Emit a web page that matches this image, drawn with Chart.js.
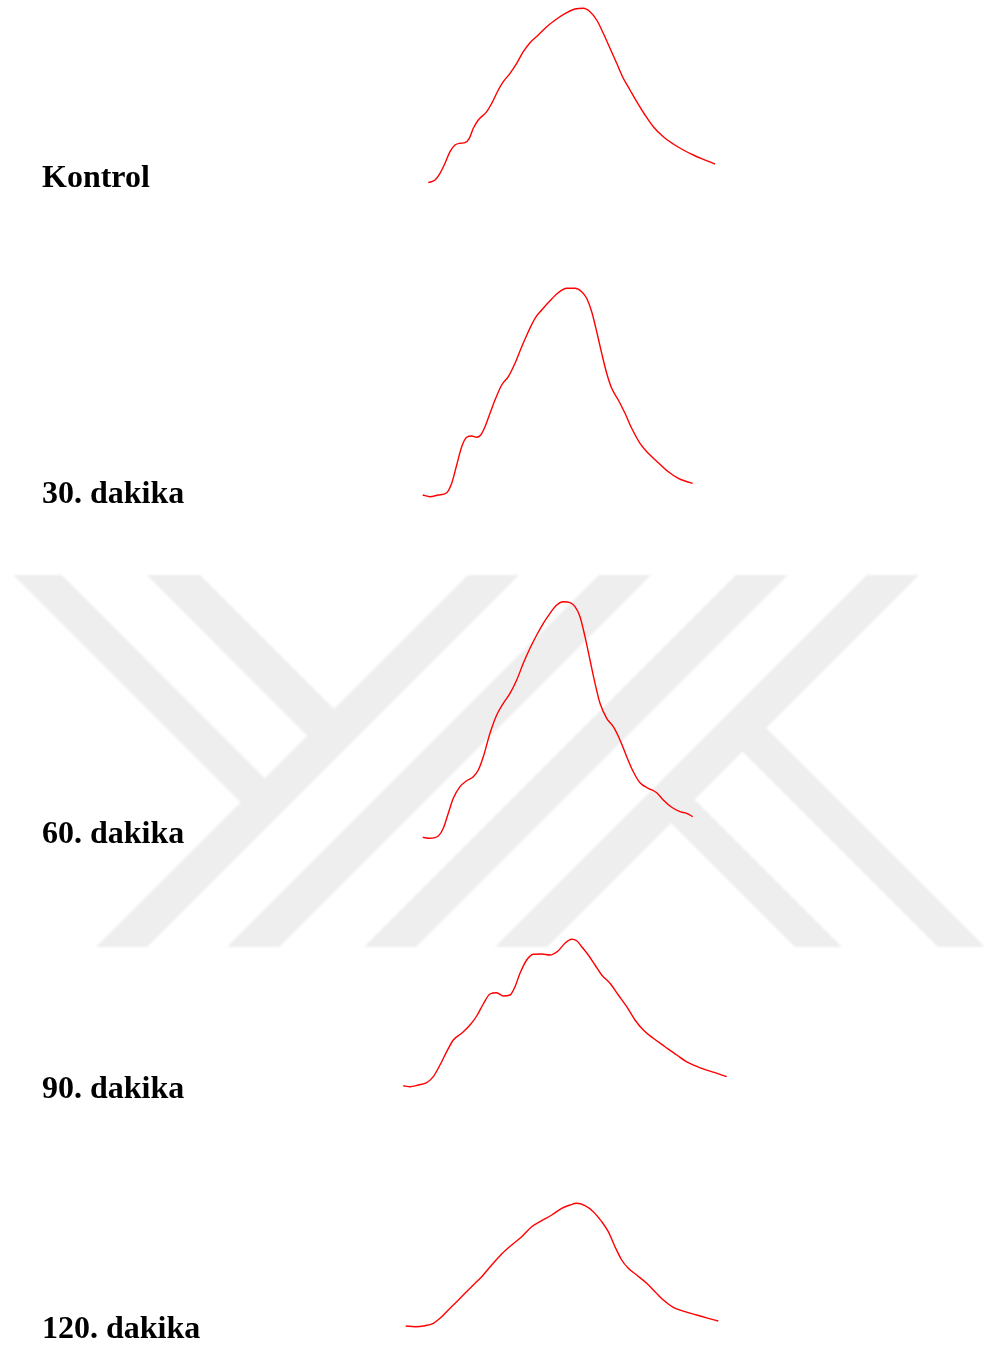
<!DOCTYPE html>
<html lang="tr">
<head>
<meta charset="utf-8">
<title>Spektrum eğrileri</title>
<script src="https://cdn.jsdelivr.net/npm/chart.js@4.4.1/dist/chart.umd.min.js"></script>
<style>
  html, body { margin: 0; padding: 0; background: #ffffff; }
  body { position: relative; width: 985px; height: 1349px; overflow: hidden; }
  #emblem { position: absolute; left: 0; top: 0; z-index: 0; filter: blur(0.8px); }
  .panel { position: absolute; z-index: 1; }
  .label {
    position: absolute; z-index: 2; left: 42px;
    font-family: "Liberation Serif", "Times New Roman", serif;
    font-weight: bold; font-size: 32px; line-height: 32px;
    color: #000; white-space: nowrap;
  }
</style>
</head>
<body>
<canvas id="emblem" width="985" height="1349"></canvas>

<script>
// Panel titles
const panelLabels = ["Kontrol", "30. dakika", "60. dakika", "90. dakika", "120. dakika"];

// Spectra: [channel, intensity] pairs for each sampling time
const kontrol = [
  [28.3, 7.3], [35, 10], [40, 16.7], [45, 26.7], [50, 38.3], [55, 45], [60, 46.7], [65, 47.3],
  [69.3, 51.7], [73.3, 61.7], [78.3, 70], [86.7, 78.3], [91.7, 86.7], [98.3, 100], [103.3, 108.3],
  [110, 116.7], [116.7, 126.7], [123.3, 138.3], [130, 147.3], [138.3, 155], [146.7, 163.3],
  [156.7, 171], [166.7, 177.3], [175, 181], [183.3, 181.7], [190, 178.3], [196.7, 170],
  [203.3, 156.7], [210, 141.7], [216.7, 126.7], [223.3, 111.7], [230, 100], [236.7, 88.3],
  [245, 75], [253.3, 63.3], [263.3, 53.3], [273.3, 46], [283.3, 40], [293.3, 35], [303.3, 30.7], [315, 26]
];
const dakika30 = [
  [22.7, 5], [30, 3.3], [38.3, 5], [46.7, 7.3], [51.7, 16.7], [56.7, 35], [61.7, 53.3], [66.7, 62.7],
  [71.7, 64], [76.7, 62.7], [80.7, 65], [85, 73.3], [90, 86.7], [95, 100], [101.7, 115], [108.3, 123.3],
  [115, 136.7], [121.7, 153.3], [128.3, 168.3], [135, 181.7], [141.7, 190], [150, 199.3], [158.3, 207.3],
  [166.7, 211.7], [175, 211.7], [181.7, 208.3], [186.7, 201.7], [191.7, 188.3], [196.7, 168.3],
  [201.7, 146.7], [206.7, 126.7], [211.7, 111.7], [218.3, 100], [225, 86.7], [231.7, 71.7], [240, 56.7],
  [248.3, 46.7], [258.3, 37.3], [268.3, 28.3], [278.3, 21.7], [285, 19], [292.7, 16.7]
];
const dakika60 = [
  [22.7, 7.7], [30, 6.7], [38.3, 9], [43.3, 16.7], [48.3, 31.7], [53.3, 46.7], [60, 58.3], [66.7, 64.3],
  [73.3, 68.3], [78.3, 75], [83.3, 88.3], [90, 111.7], [96.7, 130], [103.3, 141.7], [110, 151.7],
  [116.7, 165], [123.3, 181.7], [130, 196.7], [136.7, 210], [143.3, 221.7], [150, 231.7], [156.7, 240],
  [163.3, 243.3], [170, 242.3], [175, 238.3], [180, 228.3], [185, 208.3], [190, 185], [195, 161.7],
  [200, 141.7], [206.7, 126.7], [213.3, 118.3], [220, 105], [226.7, 88.3], [233.3, 73.3], [240, 62.3],
  [248.3, 56.7], [256.7, 52.3], [263.3, 45], [271.7, 37.7], [280, 33.3], [286.7, 31.7], [292.7, 28.3]
];
const dakika90 = [
  [3.3, 9.3], [10, 8.3], [18.3, 10], [26.7, 12.3], [33.3, 18.3], [40, 30], [46.7, 43.3], [53.3, 55],
  [61.7, 61.7], [70, 70], [76.7, 79], [83.3, 91], [90, 101], [96.7, 102.3], [103.3, 99], [110, 100],
  [115, 108.3], [120, 121.7], [126.7, 135], [133.3, 140.7], [141.7, 141], [150, 140], [158.3, 144.3],
  [165, 151.7], [171.7, 155.7], [176.7, 154.3], [181.7, 148.3], [188.3, 140], [195, 130], [201.7, 120],
  [210, 111.7], [218.3, 100], [226.7, 88.3], [235, 75], [243.3, 65], [253.3, 56.7], [265, 48.3],
  [276.7, 40], [288.3, 32.3], [301.7, 26.7], [315, 22.3], [326.7, 18.3]
];
const dakika120 = [
  [5.7, 9], [15, 8.3], [25, 9.3], [33.3, 11.7], [40, 16.7], [48.3, 25], [56.7, 33.3], [65, 41.7],
  [73.3, 50], [81.7, 58.3], [91.7, 70], [101.7, 81], [111.7, 90], [121.7, 98.3], [131.7, 108.3],
  [141.7, 114.3], [151.7, 120], [161.7, 126.7], [170, 130], [176.7, 131.7], [185, 129.3], [193.3, 123.3],
  [201.7, 113.3], [208.3, 103.3], [215, 88.3], [221.7, 75], [228.3, 66.7], [236.7, 60], [246.7, 51.7],
  [255, 43.3], [263.3, 35], [273.3, 27.7], [285, 23.3], [296.7, 20], [308.3, 16.7], [318.3, 14]
];

// Shared channel range and per-panel intensity range
const channelMin = 0, channelMax = 340;
const intensityMax = [190, 220, 255, 165, 145];

// Panel placement on the page
const panelTop = [0, 280, 590, 930, 1190];
const labelTop = [160, 476, 816, 1071, 1311];
const series = [kontrol, dakika30, dakika60, dakika90, dakika120];

// Faint background emblem made of diagonal bands
(function drawEmblem() {
  const ctx = document.getElementById('emblem').getContext('2d');
  ctx.fillStyle = '#eeeeee';
  const top = 575, bottom = 947;
  function rise(a, b) { // band between x+y=a and x+y=b
    ctx.beginPath();
    ctx.moveTo(a - bottom, bottom); ctx.lineTo(b - bottom, bottom);
    ctx.lineTo(b - top, top); ctx.lineTo(a - top, top);
    ctx.closePath(); ctx.fill();
  }
  function fallFromTop(c, d, e) { // band x-y in [c,d] from top down to x+y=e
    ctx.beginPath();
    ctx.moveTo(top + c, top); ctx.lineTo(top + d, top);
    ctx.lineTo((e + d) / 2, (e - d) / 2); ctx.lineTo((e + c) / 2, (e - c) / 2);
    ctx.closePath(); ctx.fill();
  }
  function fallToBottom(c, d, e) { // band x-y in [c,d] from x+y=e down to bottom
    ctx.beginPath();
    ctx.moveTo((e + c) / 2, (e - c) / 2); ctx.lineTo((e + d) / 2, (e - d) / 2);
    ctx.lineTo(bottom + d, bottom); ctx.lineTo(bottom + c, bottom);
    ctx.closePath(); ctx.fill();
  }
  rise(1043, 1094);
  rise(1174, 1226);
  rise(1311, 1363);
  rise(1442, 1494);
  fallFromTop(-561.7, -513.3, 1060);
  fallFromTop(-428.3, -375, 1060);
  fallToBottom(-152, -105, 1470);
  fallToBottom(-9, 38, 1470);
})();

// Titles and spectra
series.forEach((pts, i) => {
  const lab = document.createElement('div');
  lab.className = 'label';
  lab.style.top = labelTop[i] + 'px';
  lab.textContent = panelLabels[i];
  document.body.appendChild(lab);

  const cv = document.createElement('canvas');
  cv.className = 'panel';
  cv.width = 340;
  cv.height = intensityMax[i];
  cv.style.left = '400px';
  cv.style.top = panelTop[i] + 'px';
  cv.style.width = '340px';
  cv.style.height = intensityMax[i] + 'px';
  document.body.appendChild(cv);

  new Chart(cv.getContext('2d'), {
    type: 'line',
    data: {
      datasets: [{
        label: panelLabels[i],
        data: pts.map(p => ({ x: p[0], y: p[1] })),
        borderColor: 'rgb(255,0,0)',
        borderWidth: 1.4,
        pointRadius: 0,
        cubicInterpolationMode: 'monotone',
        fill: false,
        clip: false
      }]
    },
    options: {
      responsive: false,
      animation: false,
      devicePixelRatio: 1,
      layout: { padding: 0 },
      plugins: { legend: { display: false }, tooltip: { enabled: false }, title: { display: false } },
      scales: {
        x: { type: 'linear', display: false, min: channelMin, max: channelMax },
        y: { type: 'linear', display: false, min: 0, max: intensityMax[i] }
      }
    }
  });
});
</script>
</body>
</html>
